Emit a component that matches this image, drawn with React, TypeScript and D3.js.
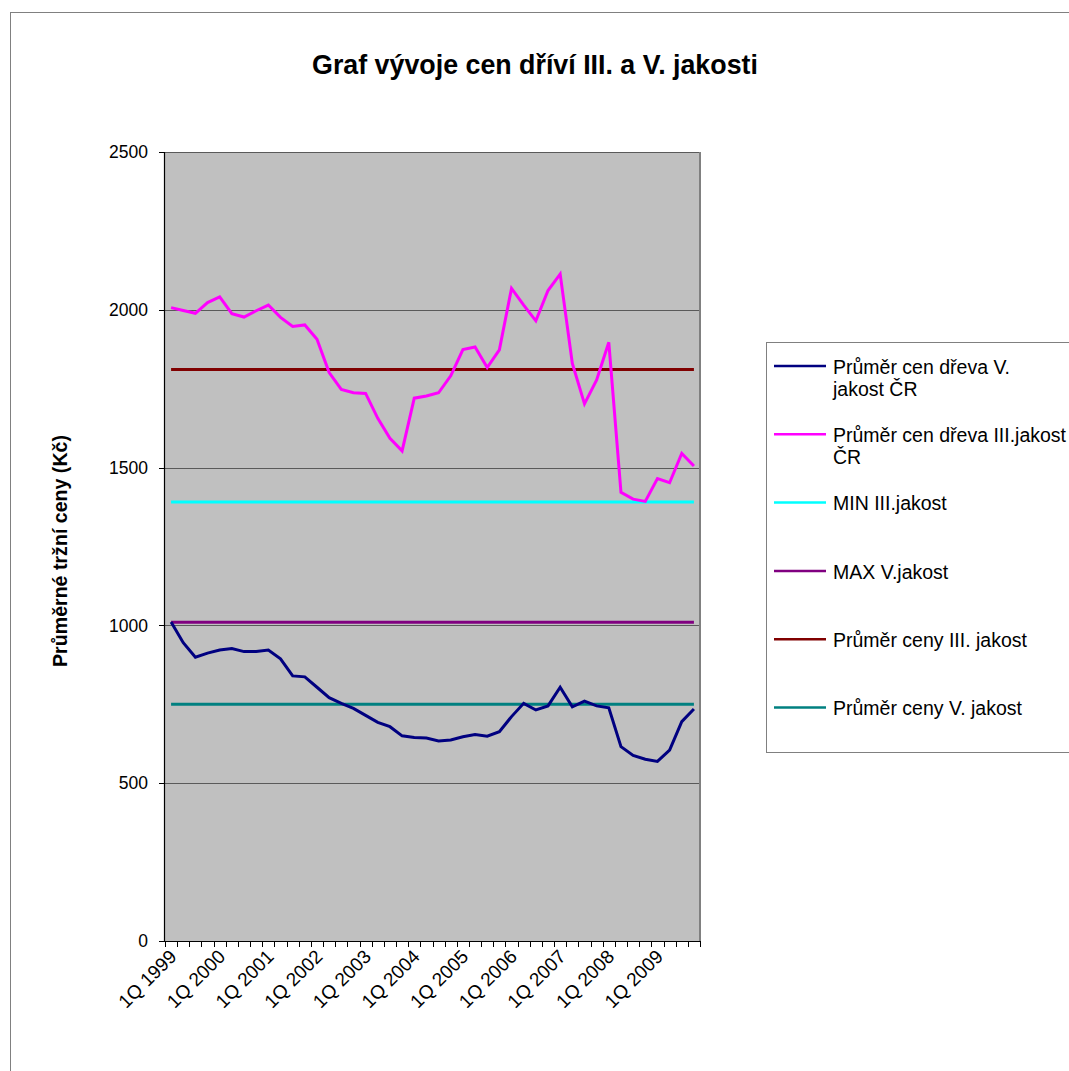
import React from "react";
import * as d3 from "d3";

const years = [1999, 2000, 2001, 2002, 2003, 2004, 2005, 2006, 2007, 2008, 2009];
const quarters = ["1Q", "2Q", "3Q", "4Q"];
const categories: string[] = years.flatMap((y) => quarters.map((q) => `${q} ${y}`));

const avgV: number[] = [
  1011, 945, 899, 912, 922, 927, 917, 917, 922, 894, 840, 837, 804, 771, 753, 737,
  715, 693, 679, 650, 645, 643, 634, 637, 647, 654, 649, 663, 711, 753, 732, 745,
  804, 742, 760, 745, 739, 616, 588, 576, 569, 605, 695, 735,
];
const avgIII: number[] = [
  2007, 1998, 1989, 2023, 2041, 1988, 1977, 1997, 2015, 1976, 1947, 1952, 1907, 1801, 1748, 1737,
  1735, 1656, 1593, 1553, 1720, 1727, 1737, 1791, 1874, 1882, 1817, 1873, 2068, 2015, 1965, 2061,
  2113, 1830, 1702, 1778, 1897, 1422, 1400, 1393, 1465, 1452, 1545, 1505,
];
const minIII = 1391;
const maxV = 1010;
const meanIII = 1811;
const meanV = 750;

const yTicks = [0, 500, 1000, 1500, 2000, 2500];

const legendItems = [
  { lines: ["Průměr cen dřeva V.", "jakost ČR"], color: "#000080" },
  { lines: ["Průměr cen dřeva III.jakost", "ČR"], color: "#FF00FF" },
  { lines: ["MIN III.jakost"], color: "#00FFFF" },
  { lines: ["MAX V.jakost"], color: "#800080" },
  { lines: ["Průměr ceny III. jakost"], color: "#800000" },
  { lines: ["Průměr ceny V. jakost"], color: "#008080" },
];

export default function App() {
  const W = 1069, H = 1071;
  const left = 165, right = 700, top = 152, bottom = 941;
  const font = "Arial, 'Liberation Sans', sans-serif";

  const x = d3.scaleBand<string>().domain(categories).range([left, right]).paddingInner(0).paddingOuter(0);
  const cx = (c: string) => (x(c) as number) + x.bandwidth() / 2;
  const y = d3.scaleLinear().domain([0, 2500]).range([bottom, top]);

  const line = d3
    .line<number>()
    .x((_, i) => cx(categories[i]))
    .y((d) => y(d));

  const x0 = cx(categories[0]);
  const x1 = cx(categories[categories.length - 1]);

  const constants = [
    { v: minIII, color: "#00FFFF" },
    { v: maxV, color: "#800080" },
    { v: meanIII, color: "#800000" },
    { v: meanV, color: "#008080" },
  ];

  const boundaries = categories.map((c) => x(c) as number).concat([right]);

  return (
    <svg width={W} height={H} style={{ position: "absolute", left: 0, top: 0, background: "#fff" }} fontFamily={font}>
      <rect x={0} y={0} width={W} height={H} fill="#fff" />
      <rect x={10.5} y={12.5} width={1200} height={1200} fill="#fff" stroke="#808080" strokeWidth={1} />

      <text x={535} y={74} textAnchor="middle" fontSize={26.8} fontWeight="bold" fill="#000">
        Graf vývoje cen dříví III. a V. jakosti
      </text>

      {/* plot area */}
      <rect x={left} y={top} width={right - left} height={bottom - top} fill="#C0C0C0" />
      {yTicks.filter((t) => t > 0).map((t) => (
        <line key={t} x1={left} x2={right} y1={Math.round(y(t)) + 0.5} y2={Math.round(y(t)) + 0.5} stroke="#5a5a5a" strokeWidth={1} />
      ))}
      <line x1={right} x2={right} y1={top} y2={bottom} stroke="#808080" strokeWidth={2} />

      {/* constants */}
      {constants.map((c) => (
        <line key={c.color} x1={x0} x2={x1} y1={y(c.v)} y2={y(c.v)} stroke={c.color} strokeWidth={3} />
      ))}

      <path d={line(avgIII) || ""} fill="none" stroke="#FF00FF" strokeWidth={3} strokeLinejoin="miter" />
      <path d={line(avgV) || ""} fill="none" stroke="#000080" strokeWidth={3} strokeLinejoin="miter" />

      {/* axes */}
      <line x1={left - 0.5} x2={left - 0.5} y1={top} y2={bottom + 0.5} stroke="#000" strokeWidth={1.2} />
      <line x1={left - 0.5} x2={right} y1={bottom + 0.5} y2={bottom + 0.5} stroke="#000" strokeWidth={1.2} />
      {yTicks.map((t) => (
        <g key={t}>
          <line x1={left - 6} x2={left} y1={Math.round(y(t)) + 0.5} y2={Math.round(y(t)) + 0.5} stroke="#000" />
          <text x={left - 17} y={y(t)} dy="0.35em" textAnchor="end" fontSize={17.5} fill="#000">
            {t}
          </text>
        </g>
      ))}
      {boundaries.map((b, i) => (
        <line key={i} x1={Math.round(b) + 0.5} x2={Math.round(b) + 0.5} y1={bottom} y2={bottom + 6} stroke="#000" />
      ))}
      {categories.map((c, i) =>
        i % 4 === 0 ? (
          <text
            key={c}
            transform={`translate(${cx(c) + 2},${bottom + 12}) rotate(-45)`}
            textAnchor="end"
            dy="0.35em"
            fontSize={19}
            fill="#000"
          >
            {c}
          </text>
        ) : null
      )}

      <text
        transform={`translate(67,551) rotate(-90)`}
        textAnchor="middle"
        fontSize={19.6}
        fontWeight="bold"
        fill="#000"
      >
        Průměrné tržní ceny (Kč)
      </text>

      {/* legend */}
      <rect x={766.5} y={342.5} width={400} height={410} fill="#fff" stroke="#808080" strokeWidth={1} />
      {legendItems.map((it, i) => {
        const ly = 366 + i * 68.3;
        return (
          <g key={i}>
            <line x1={774} x2={826} y1={ly} y2={ly} stroke={it.color} strokeWidth={2.5} />
            {it.lines.map((l, j) => (
              <text key={j} x={833} y={ly + 1 + j * 22} dy="0.35em" fontSize={19.5} fill="#000">
                {l}
              </text>
            ))}
          </g>
        );
      })}
    </svg>
  );
}
